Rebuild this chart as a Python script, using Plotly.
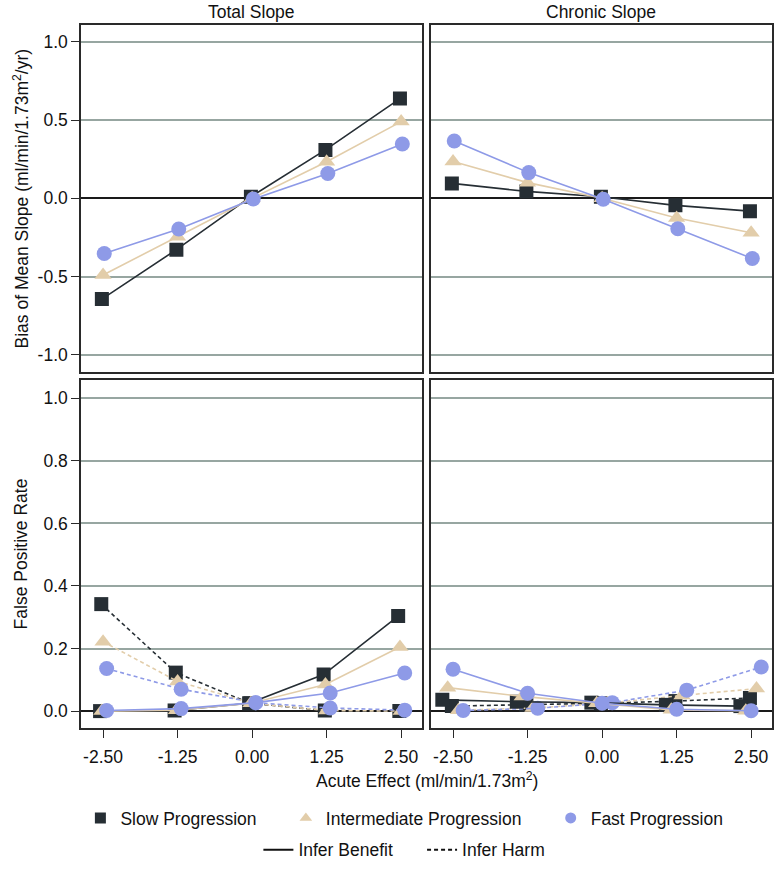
import plotly.graph_objects as go

# ---------------- data ----------------
acute_effect = [-2.5, -1.25, 0.0, 1.25, 2.5]
x_tick_vals = [-2.5, -1.25, 0.0, 1.25, 2.5]
x_tick_text = ["-2.50", "-1.25", "0.00", "1.25", "2.50"]
bias_tick_vals = [-1.0, -0.5, 0.0, 0.5, 1.0]
bias_tick_text = ["-1.0", "-0.5", "0.0", "0.5", "1.0"]
fpr_tick_vals = [0.0, 0.2, 0.4, 0.6, 0.8, 1.0]
fpr_tick_text = ["0.0", "0.2", "0.4", "0.6", "0.8", "1.0"]

groups = ["Slow Progression", "Intermediate Progression", "Fast Progression"]
inference = ["Infer Benefit", "Infer Harm"]
panel_titles = ["Total Slope", "Chronic Slope"]

# Bias of mean slope
total_bias_slow = [-0.644, -0.328, 0.010, 0.309, 0.637]
total_bias_inter = [-0.490, -0.245, 0.000, 0.233, 0.490]
total_bias_fast = [-0.353, -0.196, -0.005, 0.158, 0.347]

chronic_bias_slow = [0.095, 0.044, 0.010, -0.045, -0.082]
chronic_bias_inter = [0.235, 0.100, 0.000, -0.126, -0.220]
chronic_bias_fast = [0.366, 0.164, -0.006, -0.195, -0.385]

# False positive rate - total slope
total_fpr_benefit_slow = [0.000, 0.002, 0.025, 0.117, 0.304]
total_fpr_benefit_inter = [0.000, 0.003, 0.025, 0.085, 0.205]
total_fpr_benefit_fast = [0.002, 0.008, 0.027, 0.058, 0.122]
total_fpr_harm_slow = [0.342, 0.123, 0.025, 0.002, 0.000]
total_fpr_harm_inter = [0.222, 0.095, 0.025, 0.002, 0.000]
total_fpr_harm_fast = [0.136, 0.070, 0.027, 0.010, 0.003]

# False positive rate - chronic slope
chronic_fpr_benefit_slow = [0.036, 0.030, 0.027, 0.020, 0.016]
chronic_fpr_benefit_inter = [0.075, 0.047, 0.025, 0.004, 0.001]
chronic_fpr_benefit_fast = [0.134, 0.057, 0.025, 0.006, 0.001]
chronic_fpr_harm_slow = [0.016, 0.020, 0.025, 0.032, 0.042]
chronic_fpr_harm_inter = [0.003, 0.010, 0.025, 0.050, 0.072]
chronic_fpr_harm_fast = [0.002, 0.009, 0.027, 0.067, 0.141]

# ---------------- styles ----------------
colors = {"Slow Progression": "#262e34",
          "Intermediate Progression": "#e2cdaa",
          "Fast Progression": "#8e9ae7"}
symbols = {"Slow Progression": "square",
           "Intermediate Progression": "triangle-up",
           "Fast Progression": "circle"}
msize = {"Slow Progression": 14,
         "Intermediate Progression": 15,
         "Fast Progression": 15}
dashes = {"Infer Benefit": "solid", "Infer Harm": "4px,3px"}

# horizontal dodge (in x units) applied per panel / series
dodge_top = {"Slow Progression": -0.02, "Intermediate Progression": 0.0, "Fast Progression": 0.02}
dodge_bl = {("Infer Benefit", "Slow Progression"): -0.05,
            ("Infer Benefit", "Intermediate Progression"): -0.02,
            ("Infer Benefit", "Fast Progression"): 0.06,
            ("Infer Harm", "Slow Progression"): -0.03,
            ("Infer Harm", "Intermediate Progression"): 0.0,
            ("Infer Harm", "Fast Progression"): 0.06}
dodge_br = {("Infer Benefit", "Slow Progression"): -0.18,
            ("Infer Benefit", "Intermediate Progression"): -0.09,
            ("Infer Benefit", "Fast Progression"): 0.0,
            ("Infer Harm", "Slow Progression"): -0.02,
            ("Infer Harm", "Intermediate Progression"): 0.09,
            ("Infer Harm", "Fast Progression"): 0.17}

FONT = "Liberation Sans, Arial, Helvetica, sans-serif"
FS = 17.5
GRID = "#97a6a1"
BORDER = "#2a2a2a"

fig = go.Figure()


def add_series(xa, ya, yvals, grp, dx, dash="solid"):
    fig.add_trace(go.Scatter(
        x=[v + dx for v in acute_effect], y=yvals,
        xaxis=xa, yaxis=ya, mode="lines+markers",
        line=dict(color=colors[grp], width=1.6, dash=dash),
        marker=dict(symbol=symbols[grp], size=msize[grp], color=colors[grp],
                    line=dict(width=0)),
        showlegend=False, hoverinfo="x+y"))


# top-left: total slope bias
for grp, vals in zip(groups, [total_bias_slow, total_bias_inter, total_bias_fast]):
    add_series("x", "y", vals, grp, dodge_top[grp])
# top-right: chronic slope bias
for grp, vals in zip(groups, [chronic_bias_slow, chronic_bias_inter, chronic_bias_fast]):
    add_series("x2", "y2", vals, grp, dodge_top[grp])

# bottom-left: total slope FPR
bl = {("Infer Harm", "Slow Progression"): total_fpr_harm_slow,
      ("Infer Harm", "Intermediate Progression"): total_fpr_harm_inter,
      ("Infer Harm", "Fast Progression"): total_fpr_harm_fast,
      ("Infer Benefit", "Slow Progression"): total_fpr_benefit_slow,
      ("Infer Benefit", "Intermediate Progression"): total_fpr_benefit_inter,
      ("Infer Benefit", "Fast Progression"): total_fpr_benefit_fast}
for inf in inference[::-1]:
    for grp in groups:
        add_series("x3", "y3", bl[(inf, grp)], grp, dodge_bl[(inf, grp)], dashes[inf])

# bottom-right: chronic slope FPR
br = {("Infer Harm", "Slow Progression"): chronic_fpr_harm_slow,
      ("Infer Harm", "Intermediate Progression"): chronic_fpr_harm_inter,
      ("Infer Harm", "Fast Progression"): chronic_fpr_harm_fast,
      ("Infer Benefit", "Slow Progression"): chronic_fpr_benefit_slow,
      ("Infer Benefit", "Intermediate Progression"): chronic_fpr_benefit_inter,
      ("Infer Benefit", "Fast Progression"): chronic_fpr_benefit_fast}
for inf in inference[::-1]:
    for grp in groups:
        add_series("x4", "y4", br[(inf, grp)], grp, dodge_br[(inf, grp)], dashes[inf])

# legend entries
pad = "\u00a0" * 5
for grp in groups:
    fig.add_trace(go.Scatter(
        x=[None], y=[None], xaxis="x3", yaxis="y3", mode="markers",
        name=grp + (pad if grp != groups[-1] else ""),
        marker=dict(symbol=symbols[grp], size=11, color=colors[grp]),
        legend="legend", showlegend=True))
for inf in inference:
    fig.add_trace(go.Scatter(
        x=[None], y=[None], xaxis="x3", yaxis="y3", mode="lines",
        name=inf + (pad if inf == inference[0] else ""),
        line=dict(color="#111111", width=2, dash=dashes[inf]),
        legend="legend2", showlegend=True))

xl = [0.0, 0.4935]
xr = [0.5065, 1.0]
yt = [0.507, 1.0]
yb = [0.0, 0.4944]
xrange = [-2.87, 2.85]
bias_range = [-1.107, 1.107]
fpr_range = [-0.054, 1.057]

common_x = dict(range=xrange, showgrid=False, zeroline=False, showline=True,
                mirror=True, linecolor=BORDER, linewidth=1.5,
                tickvals=x_tick_vals, ticktext=x_tick_text,
                tickfont=dict(family=FONT, size=FS, color="#111"))
common_y = dict(showgrid=True, gridcolor=GRID, gridwidth=1.5,
                zeroline=True, zerolinecolor="#1a1a1a", zerolinewidth=1.5,
                showline=True, mirror=True, linecolor=BORDER, linewidth=1.5,
                tickfont=dict(family=FONT, size=FS, color="#111"))

fig.update_layout(
    width=776, height=870,
    margin=dict(l=81, r=2, t=25, b=135),
    paper_bgcolor="white", plot_bgcolor="white",
    font=dict(family=FONT, size=FS, color="#111"),
    xaxis=dict(common_x, domain=xl, anchor="y", showticklabels=False, ticks=""),
    xaxis2=dict(common_x, domain=xr, anchor="y2", showticklabels=False, ticks=""),
    xaxis3=dict(common_x, domain=xl, anchor="y3", ticks="outside", ticklen=8,
                tickcolor=BORDER, tickwidth=1.2, ticklabelstandoff=4),
    xaxis4=dict(common_x, domain=xr, anchor="y4", ticks="outside", ticklen=8,
                tickcolor=BORDER, tickwidth=1.2, ticklabelstandoff=4),
    yaxis=dict(common_y, domain=yt, anchor="x", range=bias_range,
               tickvals=bias_tick_vals, ticktext=bias_tick_text,
               ticks="outside", ticklen=8, tickcolor=BORDER, tickwidth=1.2),
    yaxis2=dict(common_y, domain=yt, anchor="x2", range=bias_range,
                tickvals=bias_tick_vals, showticklabels=False, ticks=""),
    yaxis3=dict(common_y, domain=yb, anchor="x3", range=fpr_range,
                tickvals=fpr_tick_vals, ticktext=fpr_tick_text,
                ticks="outside", ticklen=8, tickcolor=BORDER, tickwidth=1.2),
    yaxis4=dict(common_y, domain=yb, anchor="x4", range=fpr_range,
                tickvals=fpr_tick_vals, showticklabels=False, ticks=""),
    legend=dict(orientation="h", x=0.468, xanchor="center", y=(735 - 826) / 710,
                yanchor="middle", font=dict(family=FONT, size=FS, color="#111"),
                bgcolor="rgba(0,0,0,0)", itemwidth=30, traceorder="normal"),
    legend2=dict(orientation="h", x=0.468, xanchor="center", y=(735 - 858) / 710,
                 yanchor="middle", font=dict(family=FONT, size=FS, color="#111"),
                 bgcolor="rgba(0,0,0,0)", itemwidth=30, traceorder="normal"),
)

annotations = [
    dict(text=panel_titles[0], x=sum(xl) / 2, y=1.0, xref="paper", yref="paper",
         xanchor="center", yanchor="bottom", yshift=1, showarrow=False),
    dict(text=panel_titles[1], x=sum(xr) / 2, y=1.0, xref="paper", yref="paper",
         xanchor="center", yanchor="bottom", yshift=1, showarrow=False),
    dict(text="Bias of Mean Slope (ml/min/1.73m<sup>2</sup>/yr)", textangle=-90,
         x=(21 - 81) / 693, y=sum(yt) / 2, xref="paper", yref="paper",
         xanchor="center", yanchor="middle", showarrow=False),
    dict(text="False Positive Rate", textangle=-90,
         x=(21 - 81) / 693, y=sum(yb) / 2, xref="paper", yref="paper",
         xanchor="center", yanchor="middle", showarrow=False),
    dict(text="Acute Effect (ml/min/1.73m<sup>2</sup>)", x=0.5, y=(735 - 788) / 710,
         xref="paper", yref="paper", xanchor="center", yanchor="middle",
         showarrow=False),
]
fig.update_layout(annotations=annotations)

fig.write_html("out.html", config={"displayModeBar": False},
               post_script="document.body.style.margin='0';")
